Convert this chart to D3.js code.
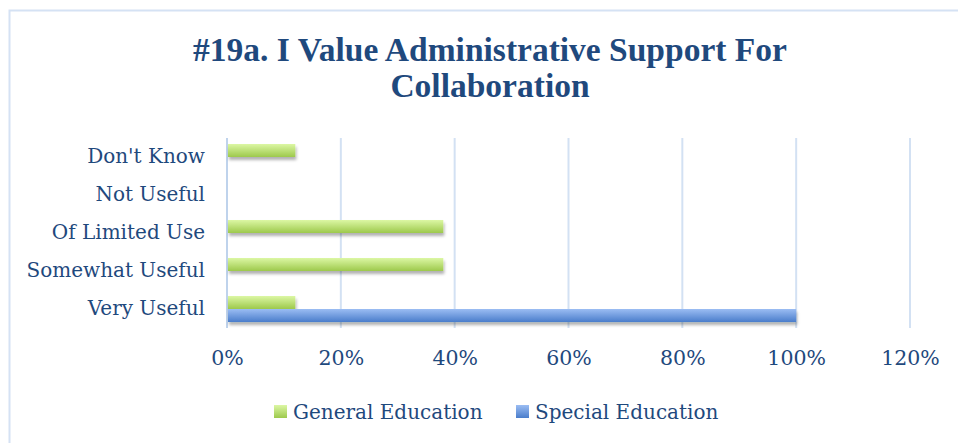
<!DOCTYPE html>
<html>
<head>
<meta charset="utf-8">
<script src="https://cdn.jsdelivr.net/npm/d3@7"></script>
<style>
  body { margin: 0; background: #fff; }
  text { font-family: "DejaVu Serif", "Liberation Serif", serif; fill: #1f497d; }
</style>
</head>
<body>
<div class="chart"></div>
<script>
// chart data
// ==========================================================================
var categories = ["Don't Know", "Not Useful", "Of Limited Use", "Somewhat Useful", "Very Useful"];
var seriesNames = ["General Education", "Special Education"];
var generalEd = [0.12, 0, 0.38, 0.38, 0.12];
var specialEd = [0, 0, 0, 0, 1.0];
var xTicks = [0, 0.2, 0.4, 0.6, 0.8, 1.0, 1.2];
var titleLines = ["#19a. I Value Administrative Support For", "Collaboration"];

var svgWidth = 958;
var svgHeight = 443;

var svg = d3.select(".chart")
  .append("svg")
  .attr("width", svgWidth)
  .attr("height", svgHeight);

var defs = svg.append("defs");

// gradients for the bars
function addGradient(id, top, bottom) {
  var g = defs.append("linearGradient")
    .attr("id", id)
    .attr("x1", 0).attr("y1", 0).attr("x2", 0).attr("y2", 1);
  g.append("stop").attr("offset", "0%").attr("stop-color", top);
  g.append("stop").attr("offset", "100%").attr("stop-color", bottom);
}
addGradient("gradGreen", "#dcf7a4", "#9dc94c");
addGradient("gradBlue", "#9bbdf3", "#4a7dcb");

var shadow = defs.append("filter")
  .attr("id", "shadow")
  .attr("x", "-5%").attr("y", "-30%").attr("width", "110%").attr("height", "190%");
shadow.append("feDropShadow")
  .attr("dx", 1).attr("dy", 3)
  .attr("stdDeviation", 1.6)
  .attr("flood-color", "#000")
  .attr("flood-opacity", 0.3);

// chart border (top and left edges visible)
svg.append("path")
  .attr("d", "M9.5,443 L9.5,10.5 L958,10.5")
  .attr("fill", "none")
  .attr("stroke", "#d5e2f4")
  .attr("stroke-width", 2);

// title
svg.append("g").selectAll("text")
  .data(titleLines)
  .enter()
  .append("text")
  .attr("x", 490)
  .attr("y", (d, i) => 61 + i * 36)
  .attr("text-anchor", "middle")
  .style("font-family", "'Liberation Serif', serif")
  .style("font-weight", "bold")
  .style("font-size", "33.5px")
  .text(d => d);

// scales
var xScale = d3.scaleLinear()
  .domain([0, 1.2])
  .range([227, 910]);

var yScale = d3.scaleBand()
  .domain(categories)
  .range([138, 328]);

var ySeries = d3.scaleBand()
  .domain(seriesNames)
  .range([0, yScale.bandwidth()])
  .paddingOuter(0.46);

// gridlines
svg.append("g").selectAll("line")
  .data(xTicks)
  .enter()
  .append("line")
  .attr("x1", d => xScale(d))
  .attr("x2", d => xScale(d))
  .attr("y1", 138)
  .attr("y2", 328)
  .attr("stroke", d => d === 0 ? "#bfd3ec" : "#d3e1f3")
  .attr("stroke-width", 2);

// axes
var bottomAxis = d3.axisBottom(xScale)
  .tickValues(xTicks)
  .tickFormat(d3.format(".0%"))
  .tickSize(0)
  .tickPadding(0);

var xAxis = svg.append("g")
  .attr("transform", "translate(0, 350)")
  .call(bottomAxis);
xAxis.select(".domain").remove();
xAxis.selectAll("text")
  .attr("dy", "0.71em")
  .style("font-size", "20.5px")
  .style("fill", "#1f497d");

var leftAxis = d3.axisLeft(yScale)
  .tickSize(0)
  .tickPadding(22);

var yAxis = svg.append("g")
  .attr("transform", "translate(227, 0)")
  .call(leftAxis);
yAxis.select(".domain").remove();
yAxis.selectAll("text")
  .style("font-size", "20px")
  .style("fill", "#1f497d");

// bars
var rows = categories.map((c, i) => ({cat: c, values: [generalEd[i], specialEd[i]]}));

var barGroups = svg.append("g").selectAll("g")
  .data(rows)
  .enter()
  .append("g")
  .attr("transform", d => `translate(0, ${yScale(d.cat)})`);

barGroups.selectAll("rect")
  .data(d => d.values.map((v, j) => ({series: seriesNames[j], value: v})).filter(e => e.value > 0))
  .enter()
  .append("rect")
  .attr("x", xScale(0) + 1)
  .attr("y", d => ySeries(d.series))
  .attr("width", d => xScale(d.value) - xScale(0) - 1)
  .attr("height", ySeries.bandwidth())
  .attr("fill", d => d.series === seriesNames[0] ? "url(#gradGreen)" : "url(#gradBlue)")
  .attr("filter", "url(#shadow)");

// legend
var legendX = [274, 516];
var legend = svg.append("g").selectAll("g")
  .data(seriesNames)
  .enter()
  .append("g")
  .attr("transform", (d, i) => `translate(${legendX[i]}, 405)`);

legend.append("rect")
  .attr("width", 13)
  .attr("height", 13)
  .attr("fill", (d, i) => i === 0 ? "url(#gradGreen)" : "url(#gradBlue)");

legend.append("text")
  .attr("x", 19)
  .attr("y", 7)
  .attr("dy", "0.35em")
  .style("font-size", "20px")
  .text(d => d);
</script>
</body>
</html>
